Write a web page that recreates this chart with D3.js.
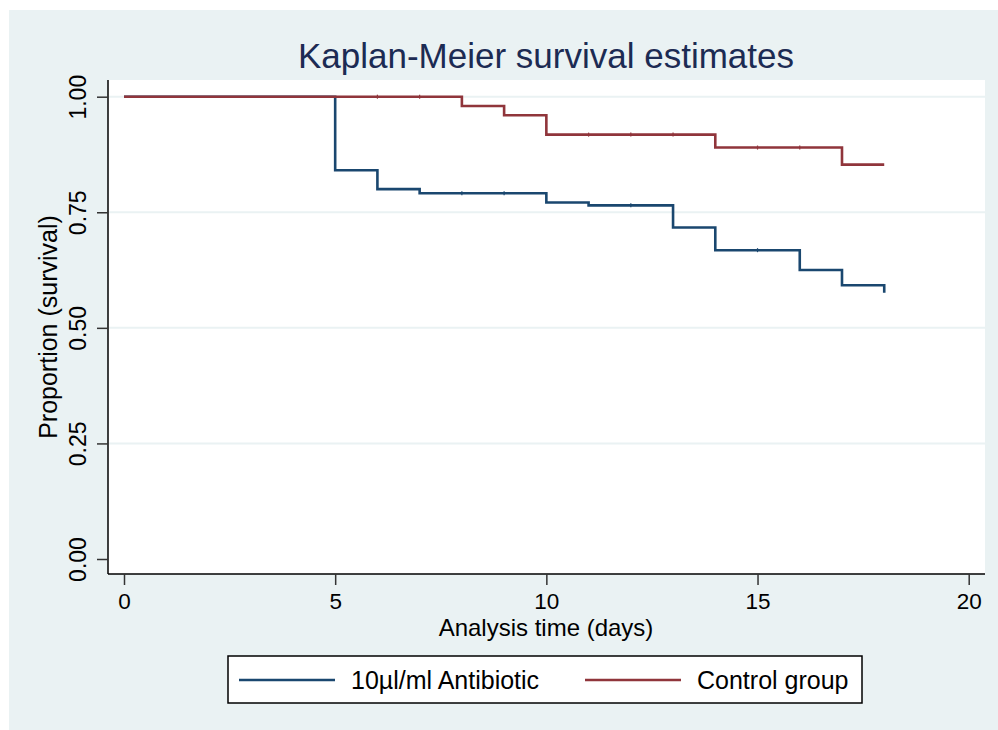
<!DOCTYPE html>
<html lang="en">
  <head>
    <meta charset="UTF-8" />
    <title>Kaplan-Meier survival estimates</title>
    <style>
        body{
            margin: 0;
            background: #ffffff;
        }
        svg text{
            font-family: "Liberation Sans", Arial, sans-serif;
            fill: #000;
        }
        .xAxis path, .yAxis path{
            stroke: #000;
            stroke-width: 1.5;
        }
        .xAxis line, .yAxis line{
            stroke: #333;
            stroke-width: 1.5;
        }
        .grid line{
            stroke: #eaf2f3;
            stroke-width: 2;
        }
    </style>
    <script src="https://d3js.org/d3.v7.min.js"></script>
  </head>
  <body>
    <script>
        // survival estimates
        const antibioticTime = [0, 5, 6, 7, 10, 11, 13, 14, 16, 17, 18];
        const antibioticSurv = [1, 0.841, 0.800, 0.791, 0.771, 0.765, 0.717, 0.668, 0.625, 0.592, 0.576];
        const antibioticCensor = [8, 9, 12, 15];

        const controlTime = [0, 8, 9, 10, 14, 17, 18];
        const controlSurv = [1, 0.980, 0.960, 0.918, 0.890, 0.853, 0.853];
        const controlCensor = [6, 7, 11, 12, 13, 15, 16];

        const xTicks = [0, 5, 10, 15, 20];
        const yTicks = [0, 0.25, 0.5, 0.75, 1];
        const seriesNames = ["10µl/ml Antibiotic", "Control group"];
        const seriesColors = ["#1a476f", "#90353b"];

        let width = 998;
        let height = 730;

        const svg = d3.select("body")
                    .append("svg")
                    .attr("width", width)
                    .attr("height", height);

        // outer background and plot region
        svg.append("rect")
            .attr("x", 9).attr("y", 10)
            .attr("width", width - 9).attr("height", height - 10)
            .attr("fill", "#eaf2f3");
        svg.append("rect")
            .attr("x", 108).attr("y", 80)
            .attr("width", 985 - 108).attr("height", 574 - 80)
            .attr("fill", "#ffffff");

        const scaleX = d3.scaleLinear().domain([0, 20]).range([124, 968.7]);
        const scaleY = d3.scaleLinear().domain([0, 1]).range([559, 96.7]);

        // grid lines
        svg.append("g").classed("grid", true)
            .selectAll("line")
            .data(yTicks.filter(d => d > 0))
            .join("line")
            .attr("x1", 109).attr("x2", 985)
            .attr("y1", d => scaleY(d)).attr("y2", d => scaleY(d));

        const axisX = d3.axisBottom(scaleX)
                        .tickValues(xTicks)
                        .tickFormat(d3.format("d"))
                        .tickSize(11)
                        .tickSizeOuter(0);
        const axisY = d3.axisLeft(scaleY)
                        .tickValues(yTicks)
                        .tickFormat(d3.format(".2f"))
                        .tickSize(11)
                        .tickSizeOuter(0);

        const gX = svg.append("g")
                    .attr("transform", "translate(0,574)")
                    .classed("xAxis", true)
                    .call(axisX);
        gX.select(".domain").attr("d", "M108,0H985");
        gX.selectAll(".tick text")
            .attr("y", 35)
            .attr("dy", "0")
            .style("font-size", "22.5px");

        const gY = svg.append("g")
                    .attr("transform", "translate(108,0)")
                    .classed("yAxis", true)
                    .call(axisY);
        gY.select(".domain").attr("d", "M0,80V574");
        gY.selectAll(".tick text")
            .attr("transform", "rotate(-90)")
            .attr("x", 0)
            .attr("y", -22)
            .attr("dy", "0")
            .attr("text-anchor", "middle")
            .style("font-size", "23px");

        // step curves
        const line = d3.line()
                    .x(d => scaleX(d[0]))
                    .y(d => scaleY(d[1]))
                    .curve(d3.curveStepAfter);

        const series = [
            {time: antibioticTime, surv: antibioticSurv, censor: antibioticCensor},
            {time: controlTime, surv: controlSurv, censor: controlCensor}
        ];

        series.forEach((s, i) => {
            const pts = s.time.map((t, j) => [t, s.surv[j]]);
            svg.append("path")
                .attr("d", line(pts))
                .attr("fill", "none")
                .attr("stroke", seriesColors[i])
                .attr("stroke-width", 2.6);
            // small censoring marks
            svg.append("g").selectAll("line")
                .data(s.censor)
                .join("line")
                .attr("x1", d => scaleX(d)).attr("x2", d => scaleX(d))
                .attr("y1", d => scaleY(s.surv[d3.bisectRight(s.time, d) - 1]) - 2)
                .attr("y2", d => scaleY(s.surv[d3.bisectRight(s.time, d) - 1]) + 2)
                .attr("stroke", seriesColors[i])
                .attr("stroke-width", 1.2);
        });

        // titles
        svg.append("text")
            .attr("x", 546).attr("y", 68)
            .attr("text-anchor", "middle")
            .style("font-size", "35px")
            .style("fill", "#1c2b53")
            .text("Kaplan-Meier survival estimates");
        svg.append("text")
            .attr("x", 546).attr("y", 636)
            .attr("text-anchor", "middle")
            .style("font-size", "24px")
            .text("Analysis time (days)");
        svg.append("text")
            .attr("transform", "translate(57,327) rotate(-90)")
            .attr("text-anchor", "middle")
            .style("font-size", "25px")
            .text("Proportion (survival)");

        // legend
        const legend = svg.append("g");
        legend.append("rect")
            .attr("x", 228).attr("y", 656)
            .attr("width", 862 - 228).attr("height", 703 - 656)
            .attr("fill", "#ffffff")
            .attr("stroke", "#000")
            .attr("stroke-width", 1.5);
        const legendX = [239, 585];
        seriesNames.forEach((name, i) => {
            legend.append("line")
                .attr("x1", legendX[i]).attr("x2", legendX[i] + 96)
                .attr("y1", 680).attr("y2", 680)
                .attr("stroke", seriesColors[i])
                .attr("stroke-width", 2.6);
            legend.append("text")
                .attr("x", legendX[i] + 112).attr("y", 689)
                .style("font-size", "25px")
                .text(name);
        });
    </script>
  </body>
</html>
